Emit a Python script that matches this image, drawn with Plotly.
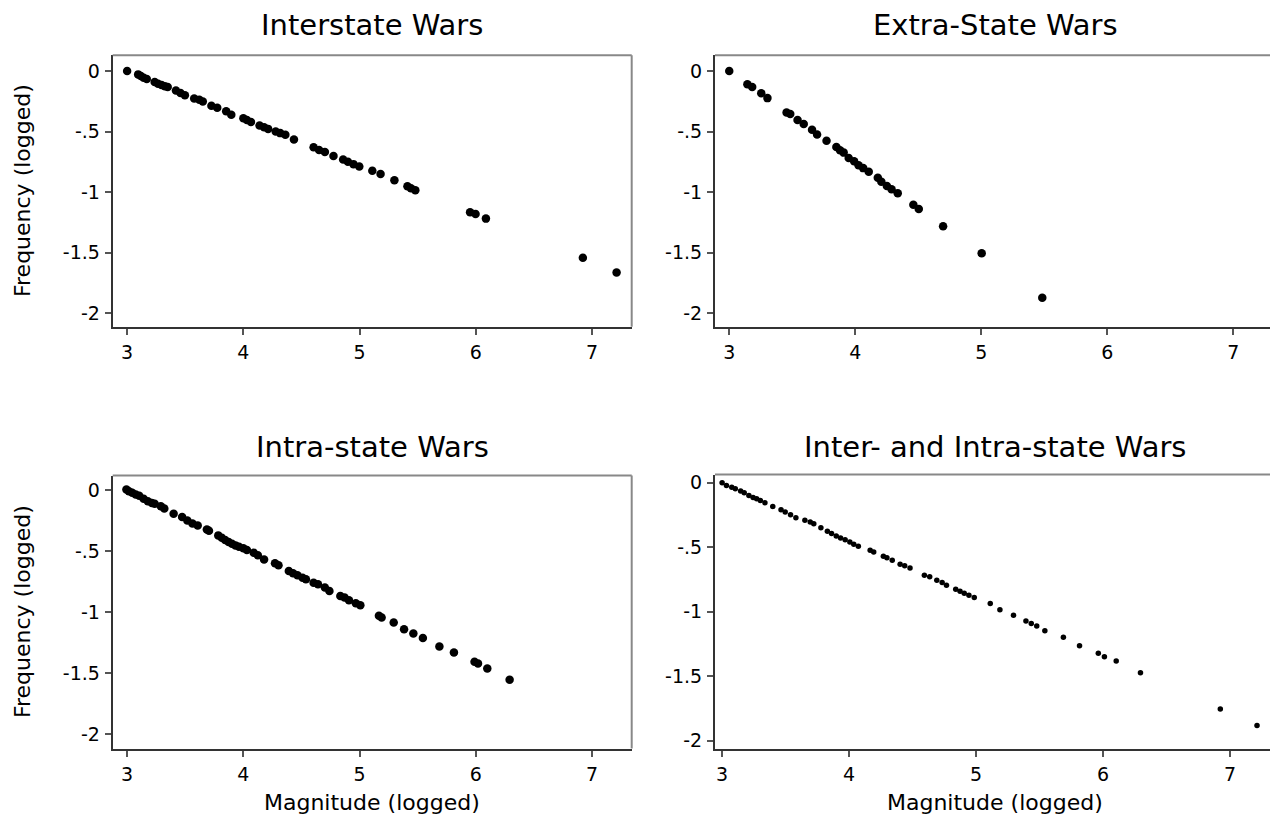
import plotly.graph_objects as go

# ---- data ----
inter_x = [3.0, 3.095, 3.118, 3.142, 3.169, 3.237, 3.266, 3.296, 3.325, 3.349, 3.42, 3.459, 3.497,
           3.577, 3.621, 3.651, 3.725, 3.775, 3.852, 3.896, 4.0, 4.03, 4.065, 4.139, 4.178, 4.213,
           4.278, 4.317, 4.361, 4.435, 4.604, 4.651, 4.701, 4.775, 4.858, 4.899, 4.947, 4.997,
           5.109, 5.18, 5.299, 5.411, 5.441, 5.479, 5.95, 5.997, 6.086, 6.92, 7.21]
inter_y = [0.0, -0.027, -0.041, -0.054, -0.065, -0.09, -0.104, -0.114, -0.125, -0.131, -0.161, -0.18, -0.199,
           -0.226, -0.237, -0.251, -0.286, -0.302, -0.332, -0.36, -0.39, -0.403, -0.42, -0.45, -0.463, -0.477,
           -0.499, -0.512, -0.526, -0.564, -0.629, -0.651, -0.668, -0.7, -0.73, -0.749, -0.768, -0.787,
           -0.823, -0.85, -0.902, -0.951, -0.967, -0.984, -1.166, -1.18, -1.218, -1.542, -1.662]

extra_x = [3.0, 3.144, 3.182, 3.254, 3.303, 3.455, 3.484, 3.542, 3.591, 3.657, 3.697, 3.772, 3.85, 3.879,
           3.908, 3.948, 3.991, 4.026, 4.063, 4.107, 4.179, 4.207, 4.251, 4.288, 4.337, 4.461, 4.504,
           4.697, 5.003, 5.484]
extra_y = [0.0, -0.109, -0.131, -0.183, -0.223, -0.341, -0.354, -0.403, -0.436, -0.485, -0.523, -0.575, -0.627, -0.654,
           -0.673, -0.717, -0.744, -0.777, -0.801, -0.831, -0.88, -0.913, -0.948, -0.975, -1.008, -1.104, -1.139,
           -1.281, -1.504, -1.872]

intra_x = [2.994, 3.015, 3.044, 3.074, 3.104, 3.142, 3.178, 3.213, 3.237, 3.29, 3.32, 3.4, 3.473, 3.518,
           3.562, 3.607, 3.686, 3.704, 3.784, 3.814, 3.843, 3.873, 3.902, 3.932, 3.962, 4.0, 4.03, 4.089,
           4.124, 4.178, 4.272, 4.302, 4.391, 4.427, 4.465, 4.509, 4.538, 4.604, 4.642, 4.701, 4.74,
           4.834, 4.87, 4.908, 4.967, 5.006, 5.166, 5.189, 5.293, 5.382, 5.462, 5.544, 5.686, 5.811,
           5.988, 6.018, 6.098, 6.29]
intra_y = [0.005, -0.008, -0.022, -0.036, -0.046, -0.071, -0.09, -0.106, -0.112, -0.131, -0.15, -0.194, -0.221, -0.248,
           -0.273, -0.289, -0.322, -0.333, -0.371, -0.39, -0.409, -0.426, -0.439, -0.453, -0.464, -0.477, -0.491, -0.513,
           -0.535, -0.568, -0.6, -0.617, -0.663, -0.682, -0.698, -0.718, -0.731, -0.759, -0.772, -0.799, -0.827,
           -0.868, -0.881, -0.903, -0.928, -0.944, -1.031, -1.045, -1.086, -1.141, -1.176, -1.214, -1.282, -1.332,
           -1.408, -1.422, -1.463, -1.555]

both_x = [3.0, 3.034, 3.076, 3.104, 3.146, 3.174, 3.211, 3.244, 3.272, 3.301, 3.337, 3.399, 3.464, 3.497,
          3.539, 3.581, 3.652, 3.694, 3.722, 3.778, 3.829, 3.862, 3.899, 3.933, 3.969, 4.006, 4.037, 4.073,
          4.166, 4.194, 4.27, 4.298, 4.34, 4.402, 4.438, 4.48, 4.593, 4.635, 4.691, 4.733, 4.767, 4.84,
          4.874, 4.907, 4.944, 4.986, 5.112, 5.188, 5.295, 5.393, 5.435, 5.478, 5.542, 5.688, 5.815,
          5.963, 6.011, 6.104, 6.295, 6.924, 7.213]
both_y = [0.0, -0.021, -0.034, -0.046, -0.064, -0.077, -0.098, -0.113, -0.124, -0.137, -0.155, -0.183, -0.209, -0.227,
          -0.247, -0.271, -0.291, -0.304, -0.317, -0.348, -0.376, -0.394, -0.412, -0.428, -0.441, -0.459, -0.477, -0.492,
          -0.523, -0.536, -0.57, -0.582, -0.601, -0.631, -0.644, -0.66, -0.716, -0.729, -0.755, -0.773, -0.794, -0.825,
          -0.84, -0.856, -0.871, -0.889, -0.936, -0.985, -1.026, -1.072, -1.09, -1.111, -1.147, -1.198, -1.263,
          -1.322, -1.348, -1.381, -1.472, -1.753, -1.881]

titles = ["Interstate Wars", "Extra-State Wars", "Intra-state Wars", "Inter- and Intra-state Wars"]
x_ticks = [3, 4, 5, 6, 7]
y_ticks = [0, -0.5, -1, -1.5, -2]
y_tick_text = ["0", "-.5", "-1", "-1.5", "-2"]
x_label = "Magnitude (logged)"
y_label = "Frequency (logged)"

OFF = 8  # page body margin
W, H = 1278 - OFF, 821 - OFF
FONT = "DejaVu Sans"

# panel geometry in screen pixels: (left, right, top, bottom), axis ranges
panels = [
    dict(px=(112.7, 631.7, 52.7, 326), xr=[2.876, 7.34], yr=[-2.11, 0.13], size=8.5),
    dict(px=(715, 1275.3, 52.7, 326), xr=[2.887, 7.333], yr=[-2.11, 0.13], size=8.5),
    dict(px=(112.7, 631.7, 476, 751), xr=[2.876, 7.34], yr=[-2.12, 0.12], size=8.5),
    dict(px=(715, 1275.3, 475, 751), xr=[2.944, 7.357], yr=[-2.06, 0.064], size=5.5),
]
series = [(inter_x, inter_y), (extra_x, extra_y), (intra_x, intra_y), (both_x, both_y)]


def fx(p):
    return (p - OFF) / W


def fy(p):
    return 1 - (p - OFF) / H


fig = go.Figure()
layout = dict(width=W, height=H, margin=dict(l=0, r=0, t=0, b=0),
              paper_bgcolor="white", plot_bgcolor="white", showlegend=False,
              font=dict(family=FONT, color="black"))
annotations = []
shapes = []
for i, (p, (xs, ys)) in enumerate(zip(panels, series)):
    n = "" if i == 0 else str(i + 1)
    l, r, t, b = p["px"]
    xd = [fx(l), min(fx(r), 1.0)]
    yd = [fy(b), fy(t)]
    layout["xaxis" + n] = dict(domain=xd, range=p["xr"], anchor="y" + n, tickvals=x_ticks,
                               ticks="outside", ticklen=6, tickwidth=2, tickcolor="#555",
                               showline=True, linecolor="#333", linewidth=2, showgrid=False,
                               zeroline=False, tickfont=dict(size=19, family=FONT, color="black"),
                               ticklabelstandoff=2)
    layout["yaxis" + n] = dict(domain=yd, range=p["yr"], anchor="x" + n, tickvals=y_ticks,
                               ticktext=y_tick_text,
                               ticks="outside", ticklen=6, tickwidth=2, tickcolor="#555",
                               showline=True, linecolor="#333", linewidth=2, showgrid=False,
                               zeroline=False, tickfont=dict(size=19, family=FONT, color="black"),
                               ticklabelstandoff=1)
    fig.add_trace(go.Scatter(x=xs, y=ys, mode="markers", xaxis="x" + n, yaxis="y" + n,
                             marker=dict(color="black", size=p["size"], line=dict(width=0))))
    # top and right frame edges
    shapes.append(dict(type="line", xref="x" + n + " domain", yref="y" + n + " domain",
                       x0=0, x1=1, y0=1, y1=1, line=dict(color="#888", width=2)))
    shapes.append(dict(type="line", xref="x" + n + " domain", yref="y" + n + " domain",
                       x0=1, x1=1, y0=0, y1=1, line=dict(color="#888", width=2)))
    cx = (fx(l) + fx(r)) / 2
    ty = fy(22 if i < 2 else 447)
    annotations.append(dict(text=titles[i], x=cx, y=ty, xref="paper", yref="paper",
                            showarrow=False, xanchor="center", yanchor="middle",
                            font=dict(size=29, family=FONT, color="black")))
    if i % 2 == 0:
        annotations.append(dict(text=y_label, x=fx(22), y=(yd[0] + yd[1]) / 2, xref="paper",
                                yref="paper", showarrow=False, textangle=-90,
                                xanchor="center", yanchor="middle",
                                font=dict(size=22, family=FONT, color="black")))
    if i >= 2:
        annotations.append(dict(text=x_label, x=cx, y=fy(805), xref="paper", yref="paper",
                                showarrow=False, xanchor="center", yanchor="middle",
                                font=dict(size=22, family=FONT, color="black")))

layout["annotations"] = annotations
layout["shapes"] = shapes
fig.update_layout(**layout)
fig.write_html("out.html")
